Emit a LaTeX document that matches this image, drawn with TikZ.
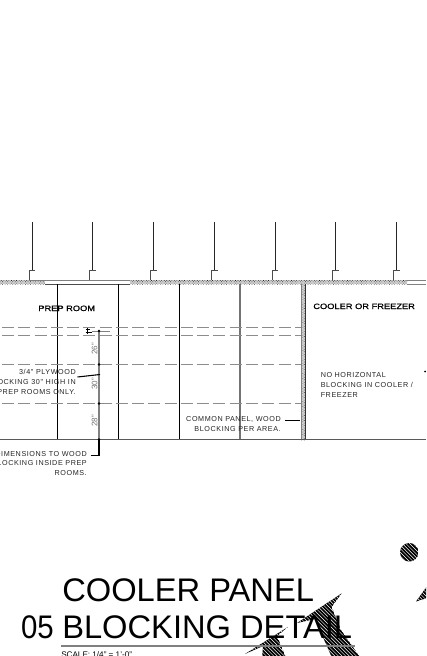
\documentclass[tikz,border=0pt]{standalone}
\usepackage{fontspec}
\setmainfont{Liberation Sans}
\newfontfamily\notefont[LetterSpace=8]{Liberation Sans}
\newfontfamily\roomfont[FakeBold=0.5]{Liberation Sans}
\usetikzlibrary{patterns,patterns.meta}
\newcommand{\hatchedshape}[1]{%
  \begin{scope}
    \clip #1;
    \fill[black] #1;
    \foreach \hk in {0,3.6,...,620}{\draw[draw=white,line width=0.36pt] (230+\hk,670) -- (230+\hk-130,540);}
  \end{scope}}
\tikzset{
  px/.style={x=0.75pt,y=-0.75pt},
  hanger/.style={draw=black!85,line width=0.9pt},
  clipline/.style={draw=black!70,line width=0.6pt},
  panel/.style={draw=black,line width=0.6pt},
  panelgray/.style={draw=black!55,line width=0.9pt},
  greyline/.style={draw=black!50,line width=0.6pt},
  block/.style={draw=black!45,line width=0.6pt,dash pattern=on 9pt off 3.2pt},
  stipple/.style={preaction={fill=black!18},pattern={Dots[radius=0.33pt,distance=1.35pt,angle=45]},pattern color=black!85},
  note/.style={font=\notefont\fontsize{5.4pt}{7pt}\selectfont,inner sep=0pt,text=black!85,anchor=base east},
  notel/.style={note,anchor=base west},
  dimtxt/.style={font=\fontsize{6pt}{7pt}\selectfont,inner sep=0pt,text=black!55,rotate=90},
  room/.style={font=\roomfont\fontsize{5.8pt}{7pt}\selectfont,inner sep=0pt,text=black,anchor=base west,xscale=1.2},
  titletxt/.style={font=\fontsize{24.5pt}{28pt}\selectfont,inner sep=0pt,anchor=base west,text=black},
  leader/.style={draw=black,line width=0.8pt}
}
\begin{document}
\begin{tikzpicture}[px]
\useasboundingbox (0,0) rectangle (426,656);
\clip (0,0) rectangle (426,656);
\fill[white] (0,0) rectangle (426,656);
% ceiling band
\fill[stipple] (0,280) rectangle (45,284);
\fill[stipple] (130,280) rectangle (407,284);
\draw[greyline] (29,280) -- (130,280);
\draw[panel,draw=black!70] (45,284) -- (130,284);
\draw[greyline] (407,280) -- (426,280);
\draw[greyline] (407,284) -- (426,284);
% hangers
\foreach \hx in {32.3,92.6,153.5,214.6,275.2,335.6,396.6}{
  \draw[hanger] (\hx,222) -- (\hx,270);
  \draw[clipline] (\hx-3.2,280) -- (\hx-3.2,270.3) -- (\hx+3,270.3);
}
% panels
\foreach \vx in {57.5,118.5,179.5}{\draw[panel] (\vx,284) -- (\vx,439.5);}
\draw[panelgray] (240,284) -- (240,439.5);
% blocking
\foreach \by in {327,335,364.5,403.5}{\draw[block] (2,\by) -- (301,\by);}
\draw[panel] (301,364.5) -- (301,403.5);
\draw[panel] (301,327) -- (301,335);
% wall
\fill[stipple] (301,284) rectangle (305,440);
\draw[greyline] (301,284) -- (301,440);
\draw[panel,draw=black!80] (305.2,284) -- (305.2,440);
\draw[panel,draw=black!65] (0,439.5) -- (426,439.5);
% dimension string
\coordinate (d0) at (99,331);
\coordinate (d1) at (99,364.5);
\coordinate (d2) at (99,403.5);
\coordinate (d3) at (99,439.5);
\draw[draw=black!50,line width=0.9pt] (d0) -- (d3);
\draw[greyline] (92,331) -- (110,331);
\foreach \d in {d0,d1,d2,d3}{\fill (\d) circle (1.4);}
\draw[draw=black,line width=0.7pt] (85.5,332.5) -- (92,332.5) (86,329.5) -- (90,329.5) (87,327.5) -- (87,334);
\node[dimtxt] (t26) at (94.5,349) {26"};
\node[dimtxt] (t30) at (94.5,384) {30"};
\node[dimtxt] (t28) at (94.5,421) {28"};
% notes
\node[note] (n1a) at (76,374.5) {3/4" PLYWOOD};
\node[note] (n1b) at (76,384.5) {BLOCKING 30" HIGH IN};
\node[note] (n1c) at (76,394.5) {PREP ROOMS ONLY.};
\coordinate (l1) at (100,374.5);
\draw[leader] (77.5,377) -- (l1);
\node[note] (n2a) at (87,456) {DIMENSIONS TO WOOD};
\node[note] (n2b) at (87,465.5) {BLOCKING INSIDE PREP};
\node[note] (n2c) at (87,475.5) {ROOMS.};
\draw[leader] (90.5,455.5) -- (99,455.5) -- (d3);
\node[note] (n3a) at (281,421.5) {COMMON PANEL, WOOD};
\node[note] (n3b) at (281,431) {BLOCKING PER AREA.};
\draw[leader] (285,420.5) -- (300,420.5);
\node[notel] (n4a) at (320.5,377.5) {NO HORIZONTAL};
\node[notel] (n4b) at (320.5,387.5) {BLOCKING IN COOLER /};
\node[notel] (n4c) at (320.5,397.5) {FREEZER};
\fill (425,371.5) circle (1);
% room labels
\node[room] (r1) at (38,311) {PREP ROOM};
\node[room] (r2) at (313,309) {COOLER OR FREEZER};
% hatched marks (under the title text)
\hatchedshape{(341.7,593.3) -- (297,623) -- (315,619) -- (333,660) -- (362,660) -- (341,630) -- (331.7,607) -- cycle}
\hatchedshape{(288.3,626.7) -- (245,654) -- (263,646) -- (262,660) -- (287,660) -- (277,636) -- cycle}
\hatchedshape{(409.3,552.3) circle (9.3)}
\hatchedshape{(416,601.5) -- (430,582) -- (430,597) -- cycle}
% title
\node[titletxt] (t1) at (62,601) {COOLER PANEL};
\node[titletxt] (t2) at (62,638) {BLOCKING DETAIL};
\node[titletxt,anchor=base east,xscale=0.9] (t0) at (54,638) {05};
\draw[draw=black!50,line width=0.8pt] (61,646) -- (355,646);
\node[inner sep=0pt,anchor=base west,font=\fontsize{6.1pt}{7pt}\selectfont] (sc) at (61,657.5) {SCALE: 1/4" = 1'-0"};
\end{tikzpicture}
\end{document}
